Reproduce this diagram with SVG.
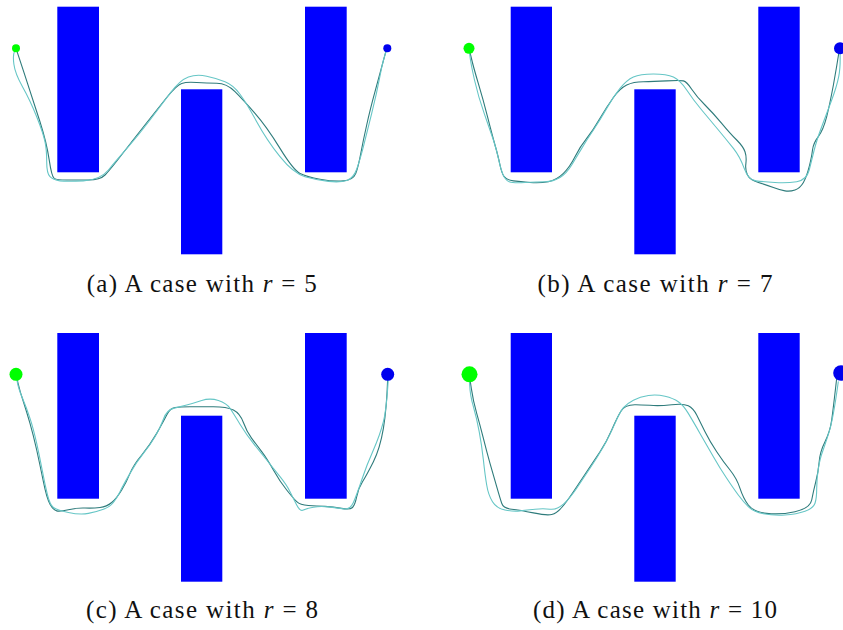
<svg xmlns="http://www.w3.org/2000/svg" width="843" height="630" viewBox="0 0 843 630">
<style>
.obs{fill:#0000ff}
.start{fill:#00ff00}
.goal{fill:#0000ee}
.p1{fill:none;stroke:#2e7b7b;stroke-width:1.1;stroke-linejoin:round;stroke-linecap:round}
.p2{fill:none;stroke:#66c6c6;stroke-width:1.1;stroke-linejoin:round;stroke-linecap:round}
.cap{font-family:"Liberation Serif","DejaVu Serif",serif;font-size:25px;fill:#111;text-anchor:middle}
.m{font-style:italic}
</style>
<rect width="843" height="630" fill="#fff"/>

<g id="panel-a">
  <rect class="obs" x="57.3" y="6.7" width="41.7" height="165.6"/>
  <rect class="obs" x="181" y="89.3" width="41.3" height="165"/>
  <rect class="obs" x="305" y="6.7" width="41.7" height="165.6"/>
  <g id="paths-a">
    <path class="p1" d="M16,48.3 L24.5,74.2 Q33,100 39.9,121.5 Q46.7,143 49.2,159.9 Q51.7,176.7 54.2,178.4 Q56.7,180 66.7,180 Q76.7,180 88.4,180 Q100,180 105,175 Q110,170 121.5,155 Q133,140 144.9,125 Q156.7,110 166.7,97.5 Q176.7,85 181.7,83.4 Q186.7,81.7 196.7,82.5 Q206.7,83.3 216.7,83.3 Q226.7,83.3 235,91.7 Q243.3,100 255,113.4 Q266.7,126.7 280,148.4 Q293.3,170 300,173.4 Q306.7,176.7 320,179.2 Q333.3,181.7 343.3,180.9 Q353.3,180 355.8,173.4 Q358.3,166.7 360.8,153.4 Q363.3,140 366.7,125 Q370,110 375,91.7 Q380,73.3 386.7,48.3"/>
    <path class="p2" d="M16,48.3 L14.4,51.7 Q12.7,55 13.9,64.2 Q15,73.3 22.5,86.7 Q30,100 36.7,116.7 Q43.3,133.3 45,141.7 Q46.7,150 46.7,161.7 Q46.7,173.3 50,176.7 Q53.3,180 60,180.9 Q66.7,181.7 83.4,180.9 Q100,180 108.4,170 Q116.7,160 128.4,146.7 Q140,133.3 150,120 Q160,106.7 170,93.4 Q180,80 188.4,77 Q196.7,74 206.7,76.2 Q216.7,78.3 225,81.7 Q233.3,85 240,94.2 Q246.7,103.3 256.7,121.7 Q266.7,140 280,156.7 Q293.3,173.3 305,176.7 Q316.7,180 328.4,181.4 Q340,182.7 346.7,180.5 Q353.3,178.3 356.7,169.2 Q360,160 363.4,146.7 Q366.7,133.3 371.7,113.3 Q376.7,93.3 380,75.8 Q383.3,58.3 387.3,48.3"/>
  </g>
  <circle class="start" cx="16" cy="48.3" r="4"/>
  <circle class="goal" cx="387.3" cy="48.3" r="4"/>
  <text class="cap" x="201.7" y="291.7" textLength="230">(a) A case with <tspan class="m">r</tspan> = 5</text>
</g>

<g id="panel-b">
  <rect class="obs" x="510.7" y="6.7" width="41.3" height="165.6"/>
  <rect class="obs" x="634.3" y="89.3" width="41.4" height="165"/>
  <rect class="obs" x="758.3" y="6.7" width="41.4" height="165.6"/>
  <g id="paths-b">
    <path class="p1" d="M469,48.3 L471.2,57.5 Q473.3,66.7 478.3,83.4 Q483.3,100 487.5,116.7 Q491.7,133.3 495,145 Q498.3,156.7 500,165 Q501.7,173.3 504.2,176.7 Q506.7,180 513.4,180.9 Q520,181.7 530,182.5 Q540,183.3 548.4,181.7 Q556.7,180 563.4,173.4 Q570,166.7 575,156.7 Q580,146.7 586.7,138.4 Q593.3,130 600,118.4 Q606.7,106.7 613.4,97.5 Q620,88.3 626.7,85 Q633.3,81.7 643.3,81.7 Q653.3,81.7 666.7,80.9 Q680,80 683.4,80.9 Q686.7,81.7 691.7,89.2 Q696.7,96.7 705,105 Q713.3,113.3 721.7,123.3 Q730,133.3 736.7,140 Q743.3,146.7 745,151.7 Q746.7,156.7 745.9,163.4 Q745,170 747.5,175 Q750,180 758.4,182.5 Q766.7,185 773.4,187.5 Q780,190 785,190.9 Q790,191.7 795,190 Q800,188.3 803.4,182.5 Q806.7,176.7 809.2,166.7 Q811.7,156.7 812.5,150 Q813.3,143.3 818.3,136.7 Q823.3,130 826.7,116.7 Q830,103.3 833.4,85 Q836.7,66.7 839.3,50"/>
    <path class="p2" d="M469,48.3 L469.9,55.8 Q470.7,63.3 474.5,80 Q478.3,96.7 484.2,113.4 Q490,130 493.4,140 Q496.7,150 498.4,158.4 Q500,166.7 502.5,173.4 Q505,180 509.2,181.7 Q513.3,183.3 525,182.5 Q536.7,181.7 545,181.7 Q553.3,181.7 560,177.5 Q566.7,173.3 571.7,165 Q576.7,156.7 581.7,148.4 Q586.7,140 593.4,130 Q600,120 606.7,108.4 Q613.3,96.7 620,88.4 Q626.7,80 633.4,77 Q640,74 653.4,74 Q666.7,74 673.4,77 Q680,80 686.7,90 Q693.3,100 701.7,110 Q710,120 718.4,130 Q726.7,140 733.4,148.4 Q740,156.7 744.2,168.4 Q748.3,180 755.8,180.9 Q763.3,181.7 775,182.5 Q786.7,183.3 796.7,181.7 Q806.7,180 809.2,170 Q811.7,160 814.2,150 Q816.7,140 821.7,126.7 Q826.7,113.3 831.7,100 Q836.7,86.7 838.7,76.7 Q840.7,66.7 840,50"/>
  </g>
  <circle class="start" cx="469" cy="48.3" r="5.5"/>
  <circle class="goal" cx="840" cy="48.3" r="6"/>
  <text class="cap" x="655" y="291.7" textLength="235">(b) A case with <tspan class="m">r</tspan> = 7</text>
</g>

<g id="panel-c">
  <rect class="obs" x="57.3" y="333" width="41.7" height="165.7"/>
  <rect class="obs" x="181" y="415.7" width="41.3" height="166"/>
  <rect class="obs" x="305" y="333" width="41.7" height="165.7"/>
  <g id="paths-c">
    <path class="p1" d="M16,374.3 L18,383 Q20,391.7 23.4,401.7 Q26.7,411.7 30,423.4 Q33.3,435 36.7,450 Q40,465 43.4,481.7 Q46.7,498.3 50,504.2 Q53.3,510 56.7,510.9 Q60,511.7 68.4,509.7 Q76.7,507.7 85,508 Q93.3,508.3 100,507.5 Q106.7,506.7 111.7,502.5 Q116.7,498.3 121.7,490 Q126.7,481.7 130,473.4 Q133.3,465 141.7,455 Q150,445 156.7,433.4 Q163.3,421.7 166.7,415 Q170,408.3 175,407.5 Q180,406.7 190,406.7 Q200,406.7 213.4,406.7 Q226.7,406.7 233.4,410 Q240,413.3 243.4,422.5 Q246.7,431.7 251.7,438.4 Q256.7,445 261.7,451.7 Q266.7,458.3 273.4,470 Q280,481.7 286.7,490 Q293.3,498.3 296.7,501.7 Q300,505 308.4,505.5 Q316.7,506 325,506.4 Q333.3,506.7 341.7,508.4 Q350,510 352.5,507.5 Q355,505 356.7,496.7 Q358.3,488.3 362.5,481.7 Q366.7,475 373.4,461.7 Q380,448.3 383.4,428.3 Q386.7,408.3 387.7,378.3"/>
    <path class="p2" d="M16,374.3 L17.2,381.3 Q18.3,388.3 22.5,398.3 Q26.7,408.3 30,418.3 Q33.3,428.3 36.7,443.3 Q40,458.3 42.5,471.7 Q45,485 47.5,495 Q50,505 53.4,507.5 Q56.7,510 68.4,512.5 Q80,515 88.4,513.4 Q96.7,511.7 103.4,509.2 Q110,506.7 113.4,502.5 Q116.7,498.3 120,491.7 Q123.3,485 130,473.4 Q136.7,461.7 143.4,453.4 Q150,445 155,436.7 Q160,428.3 163.4,419.2 Q166.7,410 173.4,408.4 Q180,406.7 186.7,405 Q193.3,403.3 201.7,400.5 Q210,397.7 218.4,400.5 Q226.7,403.3 230,408.3 Q233.3,413.3 240,424.2 Q246.7,435 253.4,443.4 Q260,451.7 266.7,460 Q273.3,468.3 280,476.7 Q286.7,485 290,491.7 Q293.3,498.3 296.7,505 Q300,511.7 303.4,510 Q306.7,508.3 313.4,507.2 Q320,506 328.4,506.9 Q336.7,507.7 343.4,508.9 Q350,510 353.4,502.5 Q356.7,495 361.7,480 Q366.7,465 373.4,450 Q380,435 383.4,421.7 Q386.7,408.3 388.3,378.3"/>
  </g>
  <circle class="start" cx="16" cy="374.3" r="6.5"/>
  <circle class="goal" cx="387.7" cy="374.3" r="6.5"/>
  <text class="cap" x="202" y="618" textLength="232">(c) A case with <tspan class="m">r</tspan> = 8</text>
</g>

<g id="panel-d">
  <rect class="obs" x="510.7" y="333" width="41.3" height="165.7"/>
  <rect class="obs" x="634.3" y="415.7" width="41.4" height="166"/>
  <rect class="obs" x="758.3" y="333" width="41.4" height="165.7"/>
  <g id="paths-d">
    <path class="p1" d="M469.3,375 L471.3,388.4 Q473.3,401.7 476.7,413.4 Q480,425 483.4,438.4 Q486.7,451.7 490,463.4 Q493.3,475 496.7,486.7 Q500,498.3 501.7,503.3 Q503.3,508.3 511.7,509.2 Q520,510 533.4,512.9 Q546.7,515.7 551.7,514.5 Q556.7,513.3 561.7,507.5 Q566.7,501.7 573.4,491.7 Q580,481.7 586.7,471.7 Q593.3,461.7 600,451.7 Q606.7,441.7 611.7,430 Q616.7,418.3 620.9,411.3 Q625,404.3 635.9,404.7 Q646.7,405 653.4,405.5 Q660,406 671.7,404.7 Q683.3,403.3 688.3,405.8 Q693.3,408.3 696.7,415 Q700,421.7 705,431.7 Q710,441.7 716.7,451.7 Q723.3,461.7 730,470 Q736.7,478.3 740,488.3 Q743.3,498.3 748.3,505 Q753.3,511.7 766.7,513.4 Q780,515 795,511.7 Q810,508.3 811.7,500 Q813.3,491.7 815.8,481.7 Q818.3,471.7 819.2,461.7 Q820,451.7 825,441.7 Q830,431.7 831.7,420 Q833.3,408.3 836.7,378.3"/>
    <path class="p2" d="M469.3,375 L469.7,385 Q470,395 473.4,406.7 Q476.7,418.3 479.2,431.7 Q481.7,445 483.4,460 Q485,475 486.7,485 Q488.3,495 492.5,501.7 Q496.7,508.3 505,510 Q513.3,511.7 520,510.9 Q526.7,510 535,509.2 Q543.3,508.3 550,509.2 Q556.7,510 563.4,504.2 Q570,498.3 576.7,488.3 Q583.3,478.3 590,468.3 Q596.7,458.3 603.4,446.7 Q610,435 615,423.4 Q620,411.7 623.4,407.7 Q626.7,403.7 633.4,400.2 Q640,396.7 648.4,395.5 Q656.7,394.3 665,396.3 Q673.3,398.3 678.3,401.7 Q683.3,405 688.3,413.4 Q693.3,421.7 700,433.4 Q706.7,445 713.4,456.7 Q720,468.3 726.7,478.3 Q733.3,488.3 738.3,495 Q743.3,501.7 748.3,506.7 Q753.3,511.7 763.3,513.7 Q773.3,515.7 785,515 Q796.7,514.3 805,511.3 Q813.3,508.3 815,503.3 Q816.7,498.3 816.7,488.3 Q816.7,478.3 818.4,468.3 Q820,458.3 822.5,451.7 Q825,445 829.2,431.7 Q833.3,418.3 838.3,381.7"/>
  </g>
  <circle class="start" cx="469.5" cy="374.3" r="8"/>
  <circle class="goal" cx="841" cy="373" r="7.8"/>
  <text class="cap" x="655" y="618" textLength="244">(d) A case with <tspan class="m">r</tspan> = 10</text>
</g>
</svg>
